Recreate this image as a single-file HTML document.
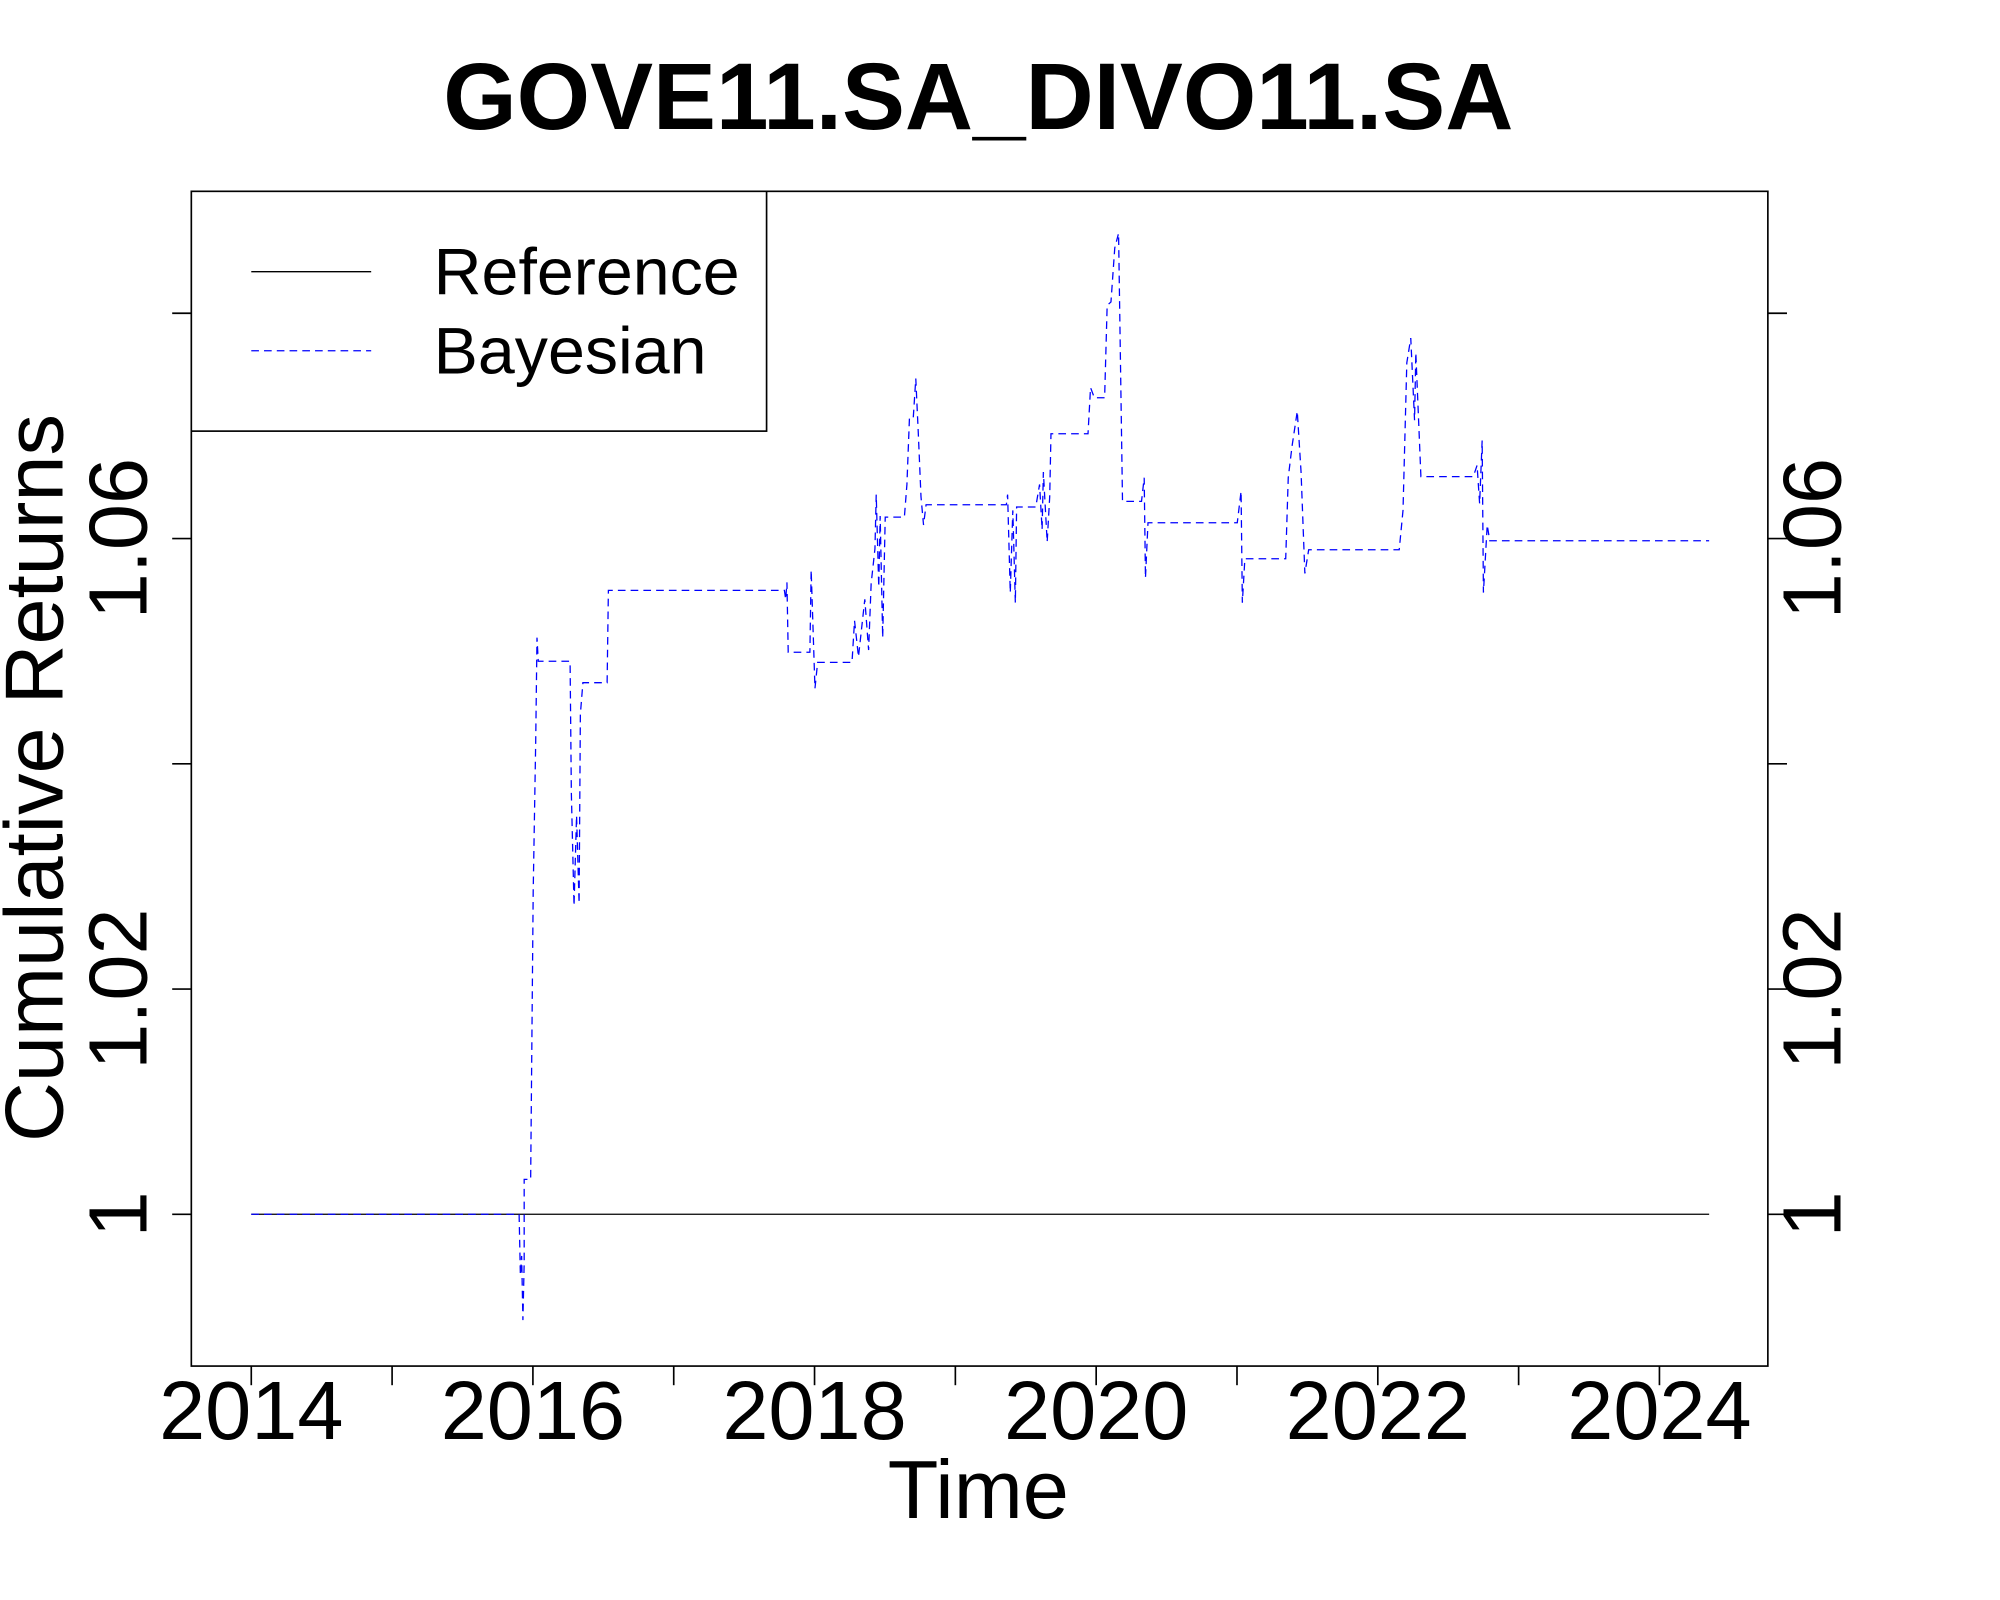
<!DOCTYPE html>
<html><head><meta charset="utf-8"><style>html,body{margin:0;padding:0;background:#fff}svg{display:block}</style></head>
<body>
<svg id="chart" width="2000" height="1600" viewBox="0 0 1568 1254.4" xmlns="http://www.w3.org/2000/svg" font-family="'Liberation Sans', sans-serif">
<rect width="1568" height="1254.4" fill="#fff"/>
<text x="767" y="101" text-anchor="middle" font-size="74" font-weight="bold">GOVE11.SA_DIVO11.SA</text>
<rect x="150" y="150" width="1236" height="921" fill="none" stroke="#000" stroke-width="1.3"/>
<g id="axes"></g>
<g id="series"></g>
<text x="767" y="1190" text-anchor="middle" font-size="65">Time</text>
<text transform="translate(49,610) rotate(-90)" text-anchor="middle" font-size="65">Cumulative Returns</text>
<g>
<rect x="150" y="150" width="451" height="188" fill="#fff" stroke="#000" stroke-width="1.3"/>
<line x1="197" y1="213" x2="291" y2="213" stroke="#000" stroke-width="1"/>
<text x="340" y="231" font-size="52">Reference</text>
<line x1="197" y1="275" x2="291" y2="275" stroke="#0000ff" stroke-width="1" stroke-dasharray="6,4"/>
<text x="340" y="293" font-size="52">Bayesian</text>
</g>
</svg>
<script>
const xTicks = [2014,2015,2016,2017,2018,2019,2020,2021,2022,2023,2024];
const xLabels = ["2014","2016","2018","2020","2022","2024"];
const yTicks = [1.00,1.02,1.04,1.06,1.08];
const yLabels = ["1","1.02","","1.06",""];
const refDates = [2014.0, 2024.353];
const refValues = [1.0, 1.0];
const bayesDates = [2014.000,2015.902,2015.911,2015.920,2015.929,2015.938,2015.938,2015.984,2016.002,2016.020,2016.029,2016.038,2016.264,2016.273,2016.292,2016.310,2016.328,2016.337,2016.355,2016.527,2016.536,2017.786,2017.795,2017.804,2017.813,2017.967,2017.976,2018.003,2018.022,2018.266,2018.284,2018.312,2018.357,2018.384,2018.402,2018.429,2018.438,2018.456,2018.466,2018.484,2018.502,2018.638,2018.656,2018.674,2018.701,2018.719,2018.737,2018.756,2018.774,2018.792,2019.362,2019.371,2019.390,2019.408,2019.426,2019.435,2019.571,2019.598,2019.616,2019.625,2019.652,2019.670,2019.679,2019.942,2019.960,2019.987,2020.060,2020.078,2020.105,2020.132,2020.159,2020.178,2020.187,2020.322,2020.341,2020.350,2020.368,2021.002,2021.029,2021.038,2021.056,2021.346,2021.364,2021.391,2021.428,2021.455,2021.482,2021.509,2022.152,2022.179,2022.206,2022.234,2022.261,2022.270,2022.306,2022.678,2022.705,2022.723,2022.741,2022.750,2022.777,2022.795,2024.353];
const bayesValues = [1.0000,1.0000,0.9946,0.9963,0.9906,0.9957,1.0031,1.0031,1.0286,1.0421,1.0512,1.0491,1.0491,1.0374,1.0274,1.0354,1.0276,1.0444,1.0472,1.0472,1.0554,1.0554,1.0546,1.0561,1.0499,1.0499,1.0572,1.0467,1.0490,1.0490,1.0527,1.0495,1.0546,1.0501,1.0560,1.0591,1.0639,1.0557,1.0620,1.0512,1.0619,1.0619,1.0648,1.0707,1.0707,1.0742,1.0693,1.0637,1.0612,1.0630,1.0630,1.0639,1.0552,1.0625,1.0543,1.0628,1.0628,1.0648,1.0608,1.0659,1.0597,1.0637,1.0693,1.0693,1.0734,1.0725,1.0725,1.0807,1.0810,1.0858,1.0871,1.0710,1.0633,1.0633,1.0654,1.0565,1.0614,1.0614,1.0642,1.0543,1.0582,1.0582,1.0654,1.0682,1.0713,1.0659,1.0569,1.0590,1.0590,1.0625,1.0756,1.0778,1.0705,1.0765,1.0655,1.0655,1.0665,1.0631,1.0687,1.0552,1.0612,1.0598,1.0598];

const NS = "http://www.w3.org/2000/svg";
function xScale(t){ return 197 + (t - 2014) * 110.4; }
function yScale(v){ return 952 - (v - 1) * 8830; }
const axes = document.getElementById('axes');
const series = document.getElementById('series');
function mk(tag, attrs, parent){ const e=document.createElementNS(NS,tag); for(const k in attrs) e.setAttribute(k,attrs[k]); parent.appendChild(e); return e; }

xTicks.forEach(t=>{
  const l = mk('line',{x1:xScale(t),x2:xScale(t),y1:1071,y2:1086,stroke:'#000','stroke-width':1.3},axes);
  
  
});
xLabels.forEach(s=>{
  const tx = mk('text',{x:xScale(+s),y:1128,'text-anchor':'middle','font-size':65},axes);
  tx.textContent = s;
  
  
});
yTicks.forEach((v,i)=>{
  const y = yScale(v);
  const l1 = mk('line',{x1:135,x2:150,y1:y,y2:y,stroke:'#000','stroke-width':1.3},axes);
  
  
  const l2 = mk('line',{x1:1386,x2:1401,y1:y,y2:y,stroke:'#000','stroke-width':1.3},axes);
  
  
  if(yLabels[i]){
    const a = mk('text',{transform:`translate(115,${y}) rotate(-90)`,'text-anchor':'middle','font-size':65},axes);
    a.textContent = yLabels[i];
    
    
    const b = mk('text',{transform:`translate(1443,${y}) rotate(-90)`,'text-anchor':'middle','font-size':65},axes);
    b.textContent = yLabels[i];
    
    
  }
});
const ref = mk('polyline',{points:refDates.map((d,i)=>xScale(d)+','+yScale(refValues[i])).join(' '),fill:'none',stroke:'#000','stroke-width':1},series);


const bay = mk('polyline',{points:bayesDates.map((d,i)=>xScale(d)+','+yScale(bayesValues[i])).join(' '),fill:'none',stroke:'#0000ff','stroke-width':1,'stroke-dasharray':'6,4'},series);


</script>
</body></html>
